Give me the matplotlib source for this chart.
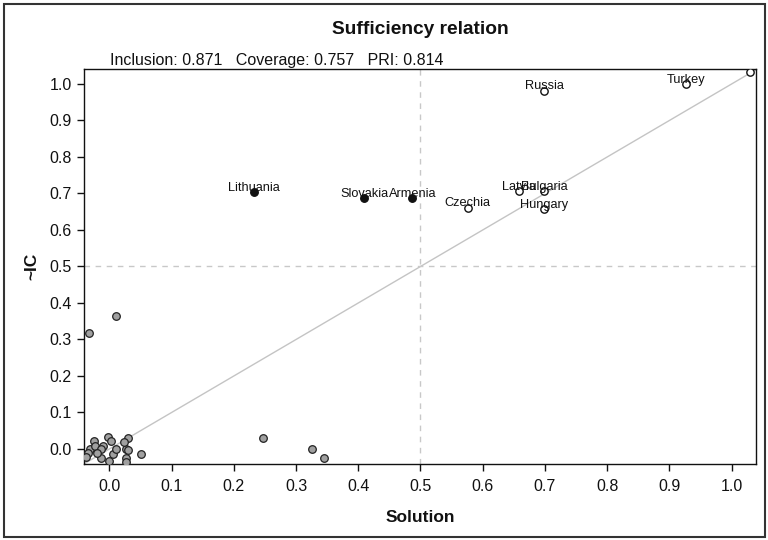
import matplotlib
matplotlib.use("Agg")
import matplotlib.pyplot as plt
from matplotlib.patches import Rectangle

plt.rcParams['font.family'] = ['Liberation Sans', 'DejaVu Sans']

# cases with labels (outcome cases above 0.5)
in_names = ["Lithuania", "Slovakia", "Armenia"]
in_x = [0.232, 0.410, 0.487]
in_y = [0.703, 0.687, 0.687]

out_names = ["Czechia", "Latvia", "Bulgaria", "Hungary", "Russia", "Turkey", ""]
out_x = [0.576, 0.658, 0.699, 0.699, 0.699, 0.927, 1.030]
out_y = [0.660, 0.706, 0.706, 0.657, 0.981, 0.999, 1.033]

# remaining cases (grey)
grey_x = [-0.025, -0.031, -0.035, -0.037, -0.023, -0.011, -0.013, -0.002, 0.003,
          0.006, 0.011, 0.026, 0.030, 0.023, 0.030, 0.026, 0.026, -0.013, -0.001,
          0.051, -0.020, -0.033, 0.010, 0.247, 0.325, 0.345]
grey_y = [0.023, -0.001, -0.012, -0.023, 0.009, 0.009, 0.000, 0.034, 0.023,
          -0.014, -0.001, -0.001, 0.029, 0.019, -0.003, -0.025, -0.036, -0.025, -0.032,
          -0.015, -0.011, 0.317, 0.364, 0.031, 0.001, -0.026]

incl, cov, pri = 0.871, 0.757, 0.814
ticks = [0.0, 0.1, 0.2, 0.3, 0.4, 0.5, 0.6, 0.7, 0.8, 0.9, 1.0]

fig = plt.figure(figsize=(7.68, 5.4), dpi=100)
ax = fig.add_axes([0.110, 0.1415, 0.875, 0.730])

ax.axline((0, 0), slope=1, color='#c4c4c4', lw=1, zorder=1)
ax.axvline(0.5, color='#c8c8c8', lw=1, ls=(0, (4, 4)), zorder=1)
ax.axhline(0.5, color='#c8c8c8', lw=1, ls=(0, (4, 4)), zorder=1)

ax.scatter(grey_x, grey_y, s=30, facecolor='#a0a0a0', edgecolor='#222222', lw=0.9, zorder=3)
ax.scatter(in_x, in_y, s=30, facecolor='#111111', edgecolor='#111111', lw=0.9, zorder=3)
ax.scatter(out_x, out_y, s=28, facecolor='white', edgecolor='#111111', lw=1.0, zorder=3)

for nm, x, y in zip(in_names + out_names, in_x + out_x, in_y + out_y):
    if nm:
        ax.annotate(nm, (x, y), xytext=(0, 1.2), textcoords='offset points',
                    ha='center', va='baseline', fontsize=9.2, color='#111111', zorder=4)

ax.set_xlim(-0.04, 1.04)
ax.set_ylim(-0.04, 1.04)
ax.set_xticks(ticks)
ax.set_yticks(ticks)
ax.set_xticklabels([f"{t:.1f}" for t in ticks])
ax.set_yticklabels([f"{t:.1f}" for t in ticks])
ax.tick_params(axis='both', direction='out', length=5, width=1, labelsize=11.5, colors='#111111')
ax.tick_params(axis='x', pad=6)
ax.tick_params(axis='y', pad=4)
for sp in ax.spines.values():
    sp.set_linewidth(1)
    sp.set_color('#111111')

fig.text(0.5475, 1 - 30 / 540, "Sufficiency relation", ha='center', va='center',
         fontsize=13.8, fontweight='bold', color='#111111')
fig.text(110 / 768, 1 - 64.5 / 540,
         f"Inclusion: {incl:.3f}   Coverage: {cov:.3f}   PRI: {pri:.3f}",
         ha='left', va='baseline', fontsize=11.5, color='#111111')
fig.text(0.5475, 1 - 517 / 540, "Solution", ha='center', va='center',
         fontsize=12.5, fontweight='bold', color='#111111')
fig.text(32 / 768, 1 - 266 / 540, "~IC", ha='center', va='center', rotation=90,
         fontsize=12.5, fontweight='bold', color='#111111')

fig.patches.append(Rectangle((4 / 768, 3 / 540), 761 / 768, 533 / 540, transform=fig.transFigure,
                             fill=False, edgecolor='#333333', lw=1.5))

fig.savefig("out.png", dpi=100)
